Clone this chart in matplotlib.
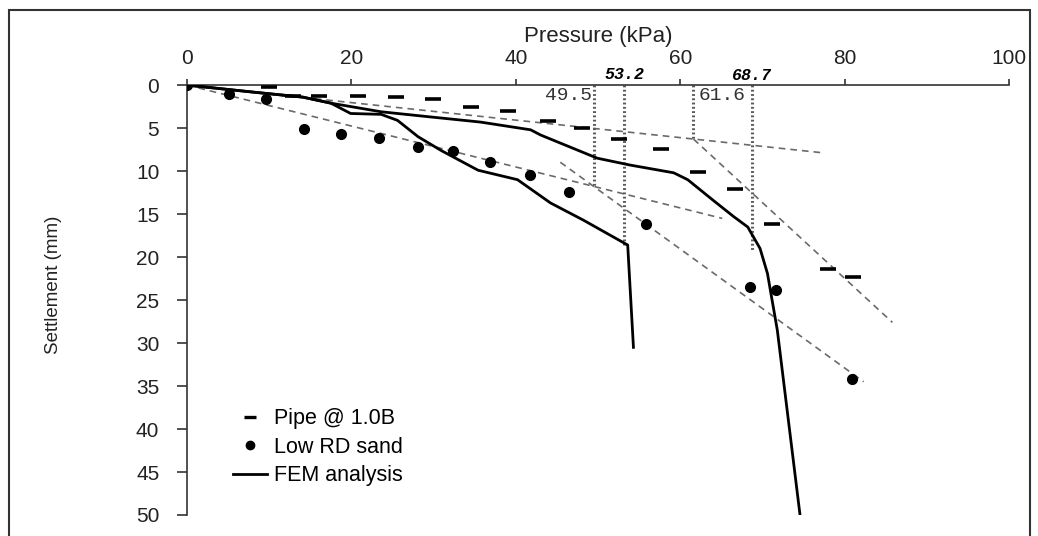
import matplotlib
matplotlib.use("Agg")
import matplotlib.pyplot as plt
from matplotlib.lines import Line2D
from matplotlib.patches import Rectangle

plt.rcParams["font.family"] = ["Liberation Sans", "DejaVu Sans"]

# Plate load test: pipe at 1.0B vs low relative density sand, plus FEM runs
pipe_p = [0, 10.0, 12.9, 16.0, 20.8, 25.4, 29.9, 34.5, 39.1, 43.9, 48.1,
          52.5, 57.6, 62.2, 66.7, 71.2, 78.0, 81.0]
pipe_s = [0, 0.2, 1.3, 1.3, 1.3, 1.4, 1.6, 2.6, 3.0, 4.2, 5.0,
          6.3, 7.4, 10.1, 12.1, 16.2, 21.4, 22.3]

sand_p = [0, 5.1, 9.6, 14.2, 18.7, 23.3, 28.1, 32.3, 36.9, 41.7, 46.4,
          55.8, 68.5, 71.6, 80.9]
sand_s = [0, 1.0, 1.6, 5.1, 5.7, 6.2, 7.2, 7.7, 9.0, 10.5, 12.4,
          16.2, 23.5, 23.8, 34.2]

fem_pipe_p = [0, 7.9, 14.1, 17.5, 23.6, 29.6, 35.7, 41.8, 43.0, 49.9, 53.9,
              59.2, 60.9, 64.0, 66.5, 68.2, 69.7, 70.6, 71.8, 74.6]
fem_pipe_s = [0, 0.8, 1.4, 2.1, 3.1, 3.7, 4.3, 5.2, 5.8, 8.5, 9.3,
              10.2, 11.0, 13.4, 15.3, 16.5, 19.0, 21.9, 28.5, 50.3]

fem_sand_p = [0, 7.9, 14.1, 17.5, 19.9, 23.6, 25.6, 28.1, 30.9, 35.4, 40.2,
              44.2, 48.2, 53.6, 54.3]
fem_sand_s = [0, 0.8, 1.4, 2.1, 3.3, 3.4, 4.1, 6.0, 7.6, 9.9, 11.0,
              13.7, 15.7, 18.6, 30.5]

# tangent (double-tangent method) lines, (p0, s0, p1, s1)
tangents = [
    (0, 0, 77.6, 7.9),        # pipe, initial
    (61.6, 6.27, 85.8, 27.6), # pipe, post-yield
    (0, 0, 65.1, 15.5),       # sand, initial
    (45.4, 8.97, 82.3, 34.5), # sand, post-yield
]

# failure pressures (kPa) and depth where each marker line stops (mm)
fail_p = [49.5, 53.2, 61.6, 68.7]
fail_s = [11.8, 18.6, 6.27, 19.2]

fig = plt.figure(figsize=(10.38, 5.36), dpi=100)
ax = fig.add_axes([0.1802, 0.0392, 0.792, 0.802])

for p0, s0, p1, s1 in tangents:
    ax.plot([p0, p1], [s0, s1], color="#6a6a6a", lw=1.2,
            linestyle=(0, (4, 3)), zorder=2)

for p, s in zip(fail_p, fail_s):
    ax.plot([p, p], [0, s], color="#5a5a5a", lw=2.2,
            linestyle=(0, (0.6, 0.8)), zorder=2)

ax.plot(fem_pipe_p, fem_pipe_s, color="black", lw=2.0, zorder=3)
ax.plot(fem_sand_p, fem_sand_s, color="black", lw=2.0, zorder=3)
ax.plot(pipe_p, pipe_s, linestyle="none", marker="_", markersize=11,
        markeredgewidth=2.6, color="black", zorder=4)
ax.plot(sand_p, sand_s, linestyle="none", marker="o", markersize=7,
        color="black", zorder=4)

mono = ["Liberation Mono", "DejaVu Sans Mono"]
ax.text(49.3, 1.2, "49.5", ha="right", va="center", fontsize=14,
        family=mono, color="#333333")
ax.text(62.2, 1.2, "61.6", ha="left", va="center", fontsize=14,
        family=mono, color="#333333")
ax.text(53.2, -1.2, "53.2", ha="center", va="center", fontsize=12,
        family=mono, style="italic", fontweight="bold", clip_on=False)
ax.text(68.7, -1.1, "68.7", ha="center", va="center", fontsize=12,
        family=mono, style="italic", fontweight="bold", clip_on=False)

ax.set_xlim(0, 100)
ax.set_ylim(50, 0)
ax.set_xticks(range(0, 101, 20))
ax.set_yticks(range(0, 51, 5))
ax.xaxis.tick_top()
ax.xaxis.set_label_position("top")
ax.spines["right"].set_visible(False)
ax.spines["bottom"].set_visible(False)
ax.spines["left"].set_linewidth(1.2)
ax.spines["top"].set_linewidth(1.2)
ax.spines["left"].set_color("#333333")
ax.spines["top"].set_color("#333333")
ax.tick_params(axis="x", direction="out", length=4, width=1.1, pad=8,
               labelsize=15, colors="#222222")
ax.tick_params(axis="y", direction="out", length=7, width=1.1, pad=13,
               labelsize=15, colors="#222222")

ax.set_xlabel("Pressure (kPa)", fontsize=16, color="#222222")
ax.xaxis.set_label_coords(0.5, 1.10)
ax.set_ylabel("Settlement (mm)", fontsize=13.5, color="#222222")
ax.yaxis.set_label_coords(-0.152, 0.535)

handles = [
    Line2D([], [], linestyle="none", marker="_", markersize=9,
           markeredgewidth=2.4, color="black"),
    Line2D([], [], linestyle="none", marker="o", markersize=6, color="black"),
    Line2D([], [], color="black", lw=2.0),
]
ax.legend(handles, ["Pipe @ 1.0B", "Low RD sand", "FEM analysis"],
          loc="upper left", bbox_to_anchor=(0.045, 0.268), frameon=False,
          fontsize=15.5, handlelength=1.6, handletextpad=0.3,
          labelspacing=0.35, borderaxespad=0)

# outer frame around the figure
fig.add_artist(Rectangle((9 / 1038, -0.05), 1021 / 1038, 1.05 - 10 / 536,
                         transform=fig.transFigure, fill=False,
                         edgecolor="#333333", lw=1.5, clip_on=False))

fig.savefig("out.png", dpi=100)
